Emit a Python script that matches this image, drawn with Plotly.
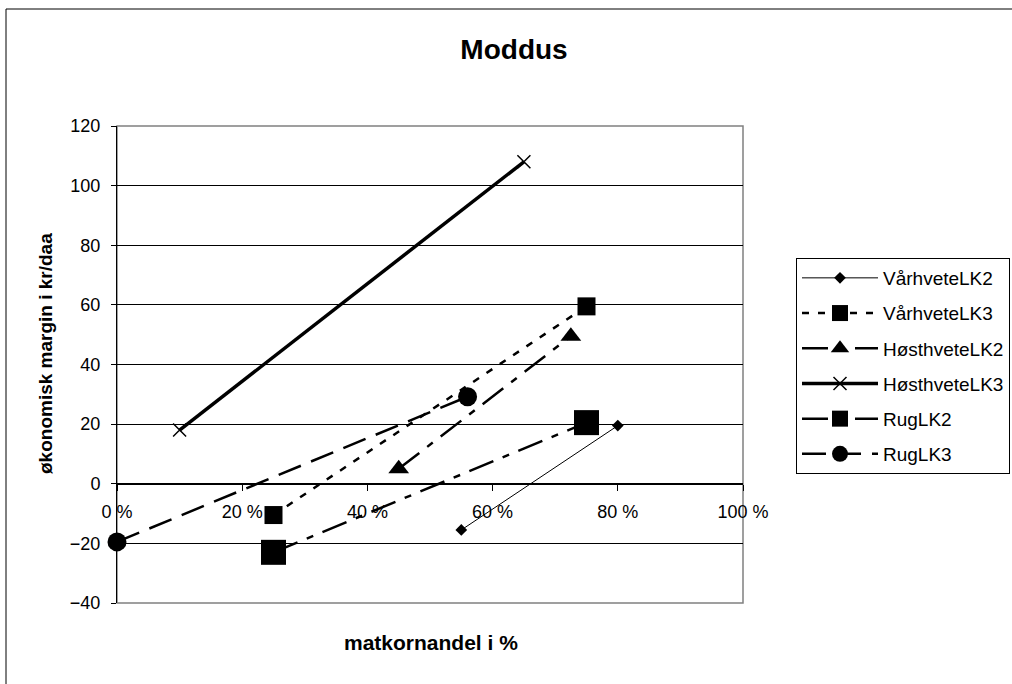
import plotly.graph_objects as go

# ---- data ----
series_names = ["VårhveteLK2", "VårhveteLK3", "HøsthveteLK2", "HøsthveteLK3", "RugLK2", "RugLK3"]
vaarhvete_lk2_x = [0.55, 0.80]
vaarhvete_lk2_y = [-15.5, 19.5]
vaarhvete_lk3_x = [0.25, 0.75]
vaarhvete_lk3_y = [-10.5, 59.5]
hosthvete_lk2_x = [0.45, 0.725]
hosthvete_lk2_y = [5, 49.5]
hosthvete_lk3_x = [0.10, 0.65]
hosthvete_lk3_y = [18, 108]
rug_lk2_x = [0.25, 0.75]
rug_lk2_y = [-23, 20.5]
rug_lk3_x = [0.0, 0.56]
rug_lk3_y = [-19.5, 29.2]

x_tickvals = [0, 0.2, 0.4, 0.6, 0.8, 1.0]
x_ticktext = ["0 %", "20 %", "40 %", "60 %", "80 %", "100 %"]
y_tickvals = [-40, -20, 0, 20, 40, 60, 80, 100, 120]

FONT = "Arial, 'Liberation Sans', sans-serif"

styles = [
    dict(line=dict(color="black", width=1, dash="solid"),
         marker=dict(symbol="diamond", size=9, color="black")),
    dict(line=dict(color="black", width=2.5, dash="7px,9px"),
         marker=dict(symbol="square", size=18, color="black")),
    dict(line=dict(color="black", width=2.5, dash="26px,10px,7px,10px"),
         marker=dict(symbol="triangle-up", size=18, color="black")),
    dict(line=dict(color="black", width=3.5, dash="solid"),
         marker=dict(symbol="x-thin", size=13, color="black", line=dict(color="black", width=1.5))),
    dict(line=dict(color="black", width=2.5, dash="26px,10px,7px,10px"),
         marker=dict(symbol="square", size=25, color="black")),
    dict(line=dict(color="black", width=2.5, dash="24px,11px"),
         marker=dict(symbol="circle", size=19, color="black")),
]

xs = [vaarhvete_lk2_x, vaarhvete_lk3_x, hosthvete_lk2_x, hosthvete_lk3_x, rug_lk2_x, rug_lk3_x]
ys = [vaarhvete_lk2_y, vaarhvete_lk3_y, hosthvete_lk2_y, hosthvete_lk3_y, rug_lk2_y, rug_lk3_y]

fig = go.Figure()
for name, x, y, st in zip(series_names, xs, ys, styles):
    fig.add_trace(go.Scatter(x=x, y=y, name=name, mode="lines+markers",
                             line=st["line"], marker=st["marker"],
                             legendgroup=name, cliponaxis=False))

W, H = 1012, 684
L, R, T, B = 117, 269, 126, 81
pw, ph = W - L - R, H - T - B

def px_x(p):
    return (p - L) / pw

def px_y(p):
    return (H - B - p) / ph

fig.update_layout(
    width=W, height=H, autosize=False,
    margin=dict(l=L, r=R, t=T, b=B, autoexpand=False),
    paper_bgcolor="white", plot_bgcolor="white",
    font=dict(family=FONT, color="black", size=18),
    title=dict(text="<b>Moddus</b>", x=514 / W, xref="container", xanchor="center",
               y=1 - 49 / H, yref="container", yanchor="middle",
               font=dict(size=28, family=FONT, color="black")),
    xaxis=dict(range=[0, 1], anchor="free", position=(0 - (-40)) / 160,
               tickvals=x_tickvals, ticktext=x_ticktext,
               showline=True, linecolor="black", linewidth=1,
               ticks="outside", ticklen=6, tickcolor="black",
               showgrid=False, zeroline=False, ticklabelstandoff=6,
               tickfont=dict(size=18)),
    yaxis=dict(range=[-40, 120], tickvals=y_tickvals,
               showline=True, linecolor="black", linewidth=1,
               ticks="outside", ticklen=5, tickcolor="black",
               showgrid=True, gridcolor="black", gridwidth=1,
               zeroline=False, ticklabelstandoff=7,
               tickfont=dict(size=18)),
    legend=dict(x=px_x(796), y=px_y(258), xanchor="left", yanchor="top",
                bordercolor="black", borderwidth=1, bgcolor="white",
                font=dict(size=19, family=FONT), itemwidth=76,
                tracegroupgap=7.5, traceorder="grouped"),
    showlegend=True,
)

fig.add_annotation(text="<b>økonomisk margin i kr/daa</b>", xref="paper", yref="paper",
                   x=px_x(45.5), y=px_y(353.5), textangle=-90, showarrow=False,
                   xanchor="center", yanchor="middle", font=dict(size=19, family=FONT))
fig.add_annotation(text="<b>matkornandel i %</b>", xref="paper", yref="paper",
                   x=px_x(431), y=px_y(642), showarrow=False,
                   xanchor="center", yanchor="middle", font=dict(size=21, family=FONT))

# plot area frame
fig.add_shape(type="rect", xref="paper", yref="paper", x0=0, x1=1, y0=0, y1=1,
              line=dict(color="#808080", width=1.5), layer="between")
# chart frame (only top and left edges fall inside the picture)
fig.add_shape(type="line", xref="paper", yref="paper",
              x0=px_x(6), x1=px_x(1040), y0=px_y(9), y1=px_y(9),
              line=dict(color="black", width=1), layer="above")
fig.add_shape(type="line", xref="paper", yref="paper",
              x0=px_x(6), x1=px_x(6), y0=px_y(9), y1=px_y(720),
              line=dict(color="black", width=1), layer="above")

fig.write_html("out.html")
